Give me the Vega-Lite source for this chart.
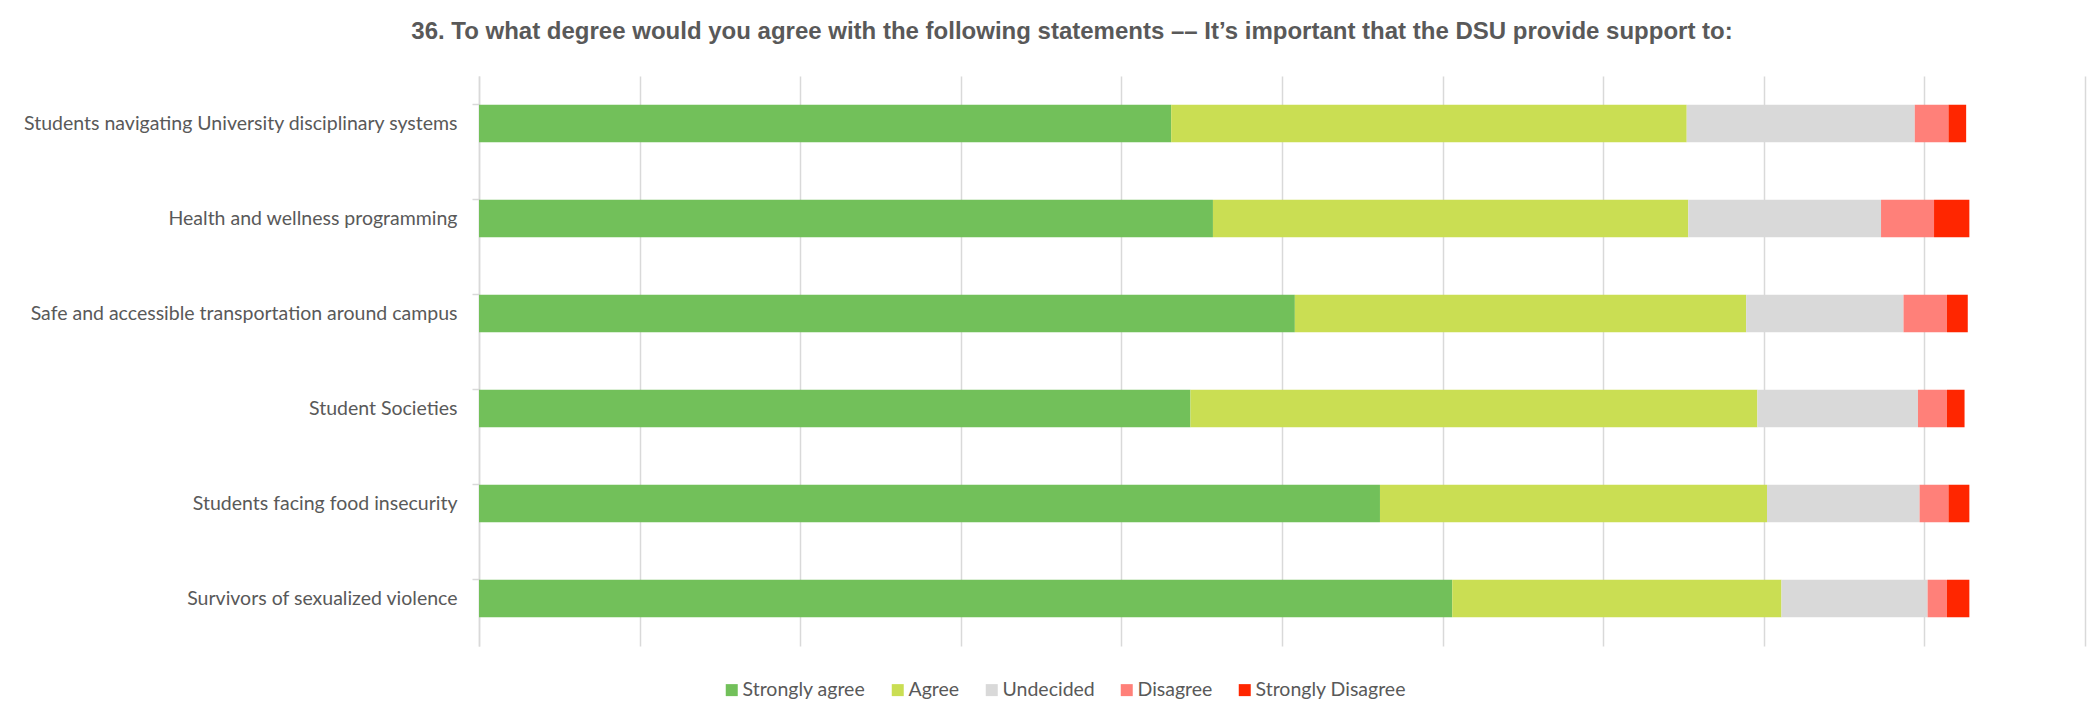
{
  "$schema": "https://vega.github.io/schema/vega-lite/v6.json",
  "width": 1606,
  "height": 570,
  "autosize": {"type": "none"},
  "padding": {"left": 479, "top": 76, "right": 12, "bottom": 74},
  "background": "white",
  "title": {
    "text": "36. To what degree would you agree with the following statements –– It’s important that the DSU provide support to:",
    "font": "Liberation Sans",
    "fontSize": 24,
    "fontWeight": "bold",
    "color": "#595959",
    "anchor": "middle",
    "frame": "group",
    "dx": -210,
    "offset": 32
  },
  "data": {
    "values": [
      {"item": "Students navigating University disciplinary systems", "response": "Strongly agree", "n": 431},
      {"item": "Students navigating University disciplinary systems", "response": "Agree", "n": 321},
      {"item": "Students navigating University disciplinary systems", "response": "Undecided", "n": 142},
      {"item": "Students navigating University disciplinary systems", "response": "Disagree", "n": 21},
      {"item": "Students navigating University disciplinary systems", "response": "Strongly Disagree", "n": 11},
      {"item": "Health and wellness programming", "response": "Strongly agree", "n": 457},
      {"item": "Health and wellness programming", "response": "Agree", "n": 296},
      {"item": "Health and wellness programming", "response": "Undecided", "n": 120},
      {"item": "Health and wellness programming", "response": "Disagree", "n": 33},
      {"item": "Health and wellness programming", "response": "Strongly Disagree", "n": 22},
      {"item": "Safe and accessible transportation around campus", "response": "Strongly agree", "n": 508},
      {"item": "Safe and accessible transportation around campus", "response": "Agree", "n": 281},
      {"item": "Safe and accessible transportation around campus", "response": "Undecided", "n": 98},
      {"item": "Safe and accessible transportation around campus", "response": "Disagree", "n": 27},
      {"item": "Safe and accessible transportation around campus", "response": "Strongly Disagree", "n": 13},
      {"item": "Student Societies", "response": "Strongly agree", "n": 443},
      {"item": "Student Societies", "response": "Agree", "n": 353},
      {"item": "Student Societies", "response": "Undecided", "n": 100},
      {"item": "Student Societies", "response": "Disagree", "n": 18},
      {"item": "Student Societies", "response": "Strongly Disagree", "n": 11},
      {"item": "Students facing food insecurity", "response": "Strongly agree", "n": 561},
      {"item": "Students facing food insecurity", "response": "Agree", "n": 241},
      {"item": "Students facing food insecurity", "response": "Undecided", "n": 95},
      {"item": "Students facing food insecurity", "response": "Disagree", "n": 18},
      {"item": "Students facing food insecurity", "response": "Strongly Disagree", "n": 13},
      {"item": "Survivors of sexualized violence", "response": "Strongly agree", "n": 606},
      {"item": "Survivors of sexualized violence", "response": "Agree", "n": 205},
      {"item": "Survivors of sexualized violence", "response": "Undecided", "n": 91},
      {"item": "Survivors of sexualized violence", "response": "Disagree", "n": 12},
      {"item": "Survivors of sexualized violence", "response": "Strongly Disagree", "n": 14}
    ]
  },
  "transform": [
    {"calculate": "indexof(['Strongly agree','Agree','Undecided','Disagree','Strongly Disagree'], datum.response)", "as": "stackOrder"}
  ],
  "mark": {"type": "bar"},
  "encoding": {
    "y": {
      "field": "item",
      "type": "nominal",
      "sort": [
        "Students navigating University disciplinary systems",
        "Health and wellness programming",
        "Safe and accessible transportation around campus",
        "Student Societies",
        "Students facing food insecurity",
        "Survivors of sexualized violence"
      ],
      "scale": {"paddingInner": 0.605, "paddingOuter": 0.3025},
      "axis": {
        "title": null,
        "labelFont": "Lato",
        "labelFontSize": 19.5,
        "labelLimit": 0,
        "labelColor": "#595959",
        "labelPadding": 15,
        "domainColor": "#D9D9D9",
        "domainWidth": 1.5,
        "tickColor": "#D9D9D9",
        "tickWidth": 1.5,
        "tickSize": 7,
        "bandPosition": 0,
        "grid": false
      }
    },
    "x": {
      "field": "n",
      "type": "quantitative",
      "stack": "zero",
      "scale": {"domain": [0, 1000], "nice": false},
      "axis": {
        "title": null,
        "labels": false,
        "ticks": false,
        "domain": false,
        "grid": true,
        "gridColor": "#D9D9D9",
        "gridWidth": 1.5,
        "values": [0, 100, 200, 300, 400, 500, 600, 700, 800, 900, 1000]
      }
    },
    "order": {"field": "stackOrder", "type": "quantitative"},
    "color": {
      "field": "response",
      "type": "nominal",
      "sort": ["Strongly agree", "Agree", "Undecided", "Disagree", "Strongly Disagree"],
      "scale": {
        "domain": ["Strongly agree", "Agree", "Undecided", "Disagree", "Strongly Disagree"],
        "range": ["#72C05A", "#CADE53", "#D9D9D9", "#FF8079", "#FF2600"]
      },
      "legend": {
        "title": null,
        "orient": "none",
        "direction": "horizontal",
        "legendX": 243,
        "legendY": 604,
        "symbolType": "square",
        "symbolSize": 144,
        "symbolStrokeWidth": 0,
        "labelFont": "Lato",
        "labelFontSize": 19.5,
        "labelColor": "#595959",
        "labelOffset": 1,
        "columnPadding": 22
      }
    }
  },
  "config": {
    "view": {"stroke": null}
  }
}
